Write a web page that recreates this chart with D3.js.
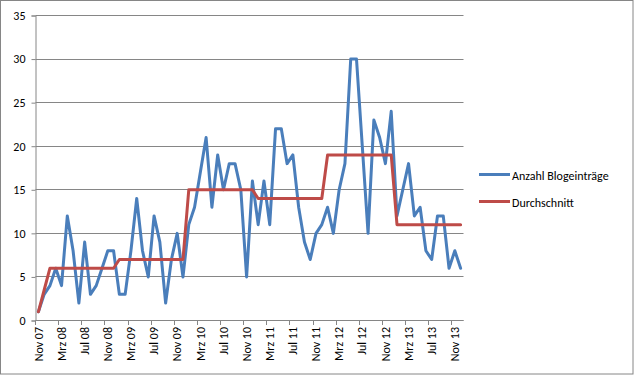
<!DOCTYPE html>
<html>
<head>
<meta charset="utf-8">
<script src="https://cdn.jsdelivr.net/npm/d3@7"></script>
<style>
  body { margin: 0; background: #fff; }
  svg { display: block; font-family: Carlito, Calibri, Lato, sans-serif; }
</style>
</head>
<body>
<svg id="chart" width="634" height="375"></svg>
<script>
// monthly categories Nov 07 .. Dez 13
var monthNames = ['Jan', 'Feb', 'Mrz', 'Apr', 'Mai', 'Jun', 'Jul', 'Aug', 'Sep', 'Okt', 'Nov', 'Dez'];
var years = ['07', '08', '09', '10', '11', '12', '13'];

var blogPosts = [
  1, 3,
  4, 6, 4, 12, 8, 2, 9, 3, 4, 6, 8, 8,
  3, 3, 8, 14, 8, 5, 12, 9, 2, 7, 10, 5,
  11, 13, 17, 21, 13, 19, 15, 18, 18, 15, 5, 16,
  11, 16, 11, 22, 22, 18, 19, 13, 9, 7, 10, 11,
  13, 10, 15, 18, 30, 30, 20, 10, 23, 21, 18, 24,
  12, 15, 18, 12, 13, 8, 7, 12, 12, 6, 8, 6
];

var average = [
  1, 3.5,
  6, 6, 6, 6, 6, 6, 6, 6, 6, 6, 6, 6,
  7, 7, 7, 7, 7, 7, 7, 7, 7, 7, 7, 7,
  15, 15, 15, 15, 15, 15, 15, 15, 15, 15, 15, 15,
  14, 14, 14, 14, 14, 14, 14, 14, 14, 14, 14, 14,
  19, 19, 19, 19, 19, 19, 19, 19, 19, 19, 19, 19,
  11, 11, 11, 11, 11, 11, 11, 11, 11, 11, 11, 11
];

var yTicks = [0, 5, 10, 15, 20, 25, 30, 35];
var seriesNames = ['Anzahl Blogeinträge', 'Durchschnitt'];
var seriesColors = ['#4A7EBB', '#BE4B48'];

var months = [];
years.forEach(function (yr) {
  monthNames.forEach(function (m, k) {
    if (yr === '07' && k < 10) return;
    months.push(m + ' ' + yr);
  });
});

var svg = d3.select('#chart');

var xScale = d3.scaleBand()
  .domain(months)
  .range([35.5, 463.5])
  .padding(0);

var yScale = d3.scaleLinear()
  .domain([0, 35])
  .range([320.5, 15.5]);

function cx(d, i) { return xScale(months[i]) + xScale.bandwidth() / 2; }

// outer border
svg.append('rect')
  .attr('x', 0.5).attr('y', 0.5)
  .attr('width', 632.5).attr('height', 373.5)
  .attr('fill', '#fff')
  .attr('stroke', '#868686');

// gridlines
svg.append('g')
  .selectAll('line')
  .data(yTicks)
  .enter().append('line')
  .attr('x1', 35.5).attr('x2', 463.5)
  .attr('y1', function (d) { return Math.round(yScale(d) - 0.5) + 0.5; })
  .attr('y2', function (d) { return Math.round(yScale(d) - 0.5) + 0.5; })
  .attr('stroke', '#868686');

// y axis
var yAxis = svg.append('g')
  .attr('transform', 'translate(35.5,0)')
  .call(d3.axisLeft(yScale).tickValues(yTicks).tickSize(4).tickPadding(6));
yAxis.select('.domain').attr('stroke', '#868686');
yAxis.selectAll('.tick line').attr('stroke', '#868686');
yAxis.selectAll('.tick text')
  .attr('fill', '#000')
  .style('font-size', '12px')
  .style('font-family', 'Carlito, Calibri, Lato, sans-serif');

// x axis (ticks between categories, labels every 4th month)
var labelIdx = months.map(function (m, i) { return i; }).filter(function (i) { return i % 4 === 0; });

var xAxis = svg.append('g');
xAxis.append('line')
  .attr('x1', 35.5).attr('x2', 463.5)
  .attr('y1', 320.5).attr('y2', 320.5)
  .attr('stroke', '#868686');

xAxis.selectAll('.tk')
  .data(labelIdx)
  .enter().append('line')
  .attr('class', 'tk')
  .attr('x1', function (i) { return Math.round(xScale(months[i]) - 0.5) + 0.5; })
  .attr('x2', function (i) { return Math.round(xScale(months[i]) - 0.5) + 0.5; })
  .attr('y1', 320.5).attr('y2', 325)
  .attr('stroke', '#868686');

xAxis.selectAll('text')
  .data(labelIdx)
  .enter().append('text')
  .attr('transform', function (i) {
    return 'translate(' + (xScale(months[i]) + xScale.bandwidth() / 2) + ',327) rotate(-90)';
  })
  .attr('text-anchor', 'end')
  .attr('dy', '0.35em')
  .style('font-size', '12px')
  .text(function (i) { return months[i]; });

// lines
var lineFun = d3.line()
  .x(cx)
  .y(function (d) { return yScale(d); });

[blogPosts, average].forEach(function (series, s) {
  svg.append('path')
    .datum(series)
    .attr('fill', 'none')
    .attr('stroke', seriesColors[s])
    .attr('stroke-width', 3)
    .attr('stroke-linejoin', 'round')
    .attr('stroke-linecap', 'round')
    .attr('d', lineFun);
});

// legend
var legend = svg.append('g')
  .selectAll('g')
  .data(seriesNames)
  .enter().append('g')
  .attr('transform', function (d, i) { return 'translate(479,' + (174.5 + i * 27) + ')'; });

legend.append('line')
  .attr('x1', 0).attr('x2', 31)
  .attr('y1', 0).attr('y2', 0)
  .attr('stroke', function (d, i) { return seriesColors[i]; })
  .attr('stroke-width', 3);

legend.append('text')
  .attr('x', 33)
  .attr('y', 1)
  .attr('dy', '0.35em')
  .style('font-size', '12px')
  .text(function (d) { return d; });
</script>
</body>
</html>
